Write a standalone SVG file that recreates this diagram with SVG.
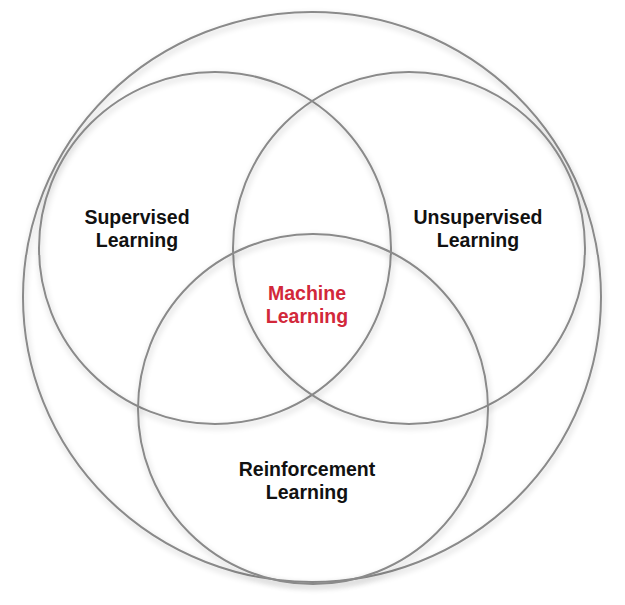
<svg xmlns="http://www.w3.org/2000/svg" width="625" height="605" viewBox="0 0 625 605">
<style>
.ring{fill:none;stroke:#8a8a8a;stroke-width:2;filter:url(#sh);}
.lbl{font-family:"Liberation Sans",Arial,Helvetica,sans-serif;font-weight:bold;font-size:19.5px;fill:#111;text-anchor:middle;}
.red{fill:#d2283a;}
</style>
<defs>
<filter id="sh" x="-10%" y="-10%" width="120%" height="120%">
<feGaussianBlur in="SourceAlpha" stdDeviation="3" result="b"/>
<feOffset in="b" dx="1" dy="3" result="o"/>
<feComponentTransfer in="o" result="f"><feFuncA type="linear" slope="0.25"/></feComponentTransfer>
<feMerge><feMergeNode in="f"/><feMergeNode in="SourceGraphic"/></feMerge>
</filter>
</defs>
<rect width="625" height="605" fill="#fff"/>
<g id="outer"><ellipse class="ring" cx="312" cy="297" rx="289" ry="285"/></g>
<g id="supervised">
<circle class="ring" cx="215" cy="248" r="176"/>
<text class="lbl" x="137" y="224">Supervised</text>
<text class="lbl" x="137" y="247">Learning</text>
</g>
<g id="unsupervised">
<circle class="ring" cx="409" cy="248" r="176"/>
<text class="lbl" x="478" y="224">Unsupervised</text>
<text class="lbl" x="478" y="247">Learning</text>
</g>
<g id="reinforcement">
<circle class="ring" cx="313" cy="409" r="175"/>
<text class="lbl" x="307" y="476">Reinforcement</text>
<text class="lbl" x="307" y="499">Learning</text>
</g>
<g id="machine">
<text class="lbl red" x="307" y="300">Machine</text>
<text class="lbl red" x="307" y="323">Learning</text>
</g>
<g id="connectors"></g>
</svg>
